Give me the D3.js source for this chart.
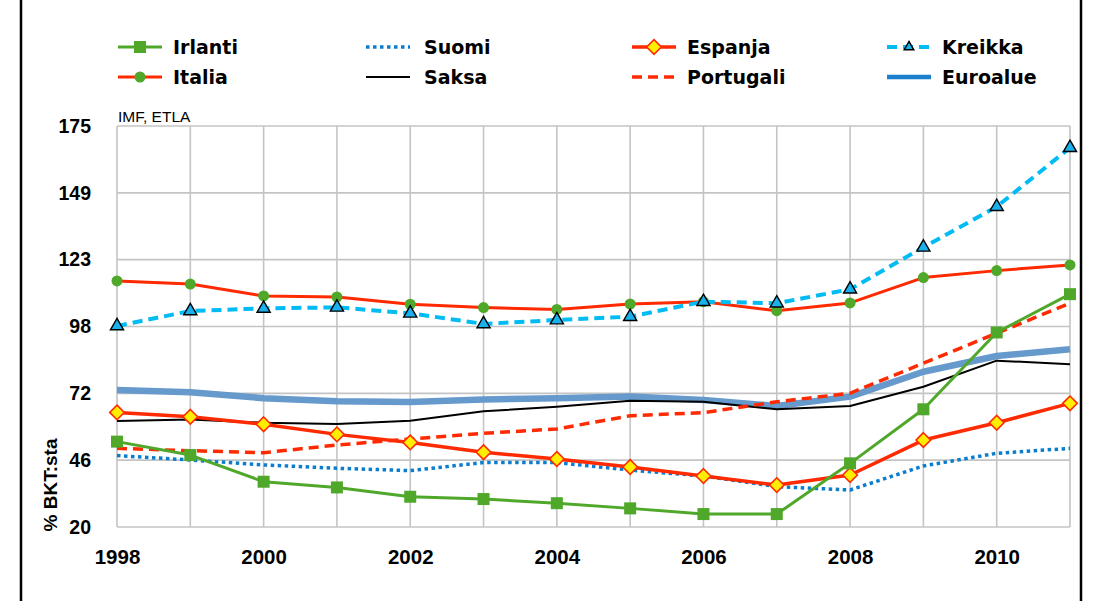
<!DOCTYPE html>
<html>
  <head>
    <meta charset="utf-8">
    <title>Julkinen velka</title>
    <script src="https://cdn.jsdelivr.net/npm/d3@7"></script>
    <style>
      body { margin: 0; background: #fff; }
      text { font-family: "Liberation Sans", Arial, sans-serif; }
      .legend text { font-family: "DejaVu Sans", sans-serif; font-weight: bold; font-size: 19px; }
    </style>
  </head>
  <body>
    <svg id="chart" width="1096" height="601"></svg>
    <script>
      // vuodet ja sarjat (% BKT:sta), luettu kuvasta
      var years = [1998, 1999, 2000, 2001, 2002, 2003, 2004, 2005, 2006, 2007, 2008, 2009, 2010, 2011];
      var xTickLabels = ["1998", "2000", "2002", "2004", "2006", "2008", "2010"];
      var yTickLabels = ["20", "46", "72", "98", "123", "149", "175"];

      var euroalue = [73.0, 72.1, 69.8, 68.6, 68.3, 69.3, 69.8, 70.4, 69.1, 66.8, 70.4, 80.0, 86.1, 88.7];
      var saksa    = [61.0, 61.6, 60.3, 59.8, 61.1, 64.7, 66.5, 68.8, 68.4, 65.5, 66.8, 74.2, 84.3, 82.9];
      var suomi    = [47.6, 45.9, 44.0, 42.7, 41.8, 44.9, 44.9, 42.0, 39.7, 35.6, 34.3, 43.6, 48.5, 50.4];
      var portugali= [50.4, 49.5, 48.7, 51.7, 54.0, 56.2, 57.9, 63.0, 64.2, 68.4, 71.7, 83.3, 94.9, 106.5];
      var espanja  = [64.3, 62.6, 59.7, 55.8, 52.7, 48.9, 46.3, 43.2, 39.7, 36.2, 40.1, 53.6, 60.3, 67.8];
      var italia   = [115.1, 113.9, 109.3, 108.9, 106.1, 104.8, 104.1, 106.2, 107.1, 103.6, 106.6, 116.4, 119.1, 121.3];
      var kreikka  = [97.7, 103.5, 104.5, 104.9, 102.6, 98.5, 100.0, 101.3, 107.1, 106.5, 111.9, 128.1, 143.8, 166.6];
      var irlanti  = [53.0, 47.8, 37.5, 35.3, 31.7, 30.8, 29.2, 27.2, 25.0, 25.0, 44.6, 65.5, 95.2, 110.0];

      // piirtojarjestys (alin ensin) + tyylit
      var series = [
        {name: "Euroalue", values: euroalue, color: "#6699cc", legendColor: "#1a7fcc", width: 6.5, dash: null, marker: null},
        {name: "Saksa", values: saksa, color: "#000000", width: 2, dash: null, marker: null},
        {name: "Suomi", values: suomi, color: "#0a7dd0", width: 3.5, dash: "3.5,3.5", marker: null},
        {name: "Portugali", values: portugali, color: "#ff2a00", width: 3.5, dash: "10,6", marker: null},
        {name: "Espanja", values: espanja, color: "#ff2a00", width: 3.5, dash: null, marker: "diamond"},
        {name: "Italia", values: italia, color: "#ff2a00", width: 3, dash: null, marker: "circle"},
        {name: "Kreikka", values: kreikka, color: "#00bbf4", width: 4, dash: "10,6", marker: "triangle"},
        {name: "Irlanti", values: irlanti, color: "#4fa82a", width: 3, dash: null, marker: "square"}
      ];
      var legendOrder = ["Irlanti", "Suomi", "Espanja", "Kreikka", "Italia", "Saksa", "Portugali", "Euroalue"];

      var svg = d3.select("#chart");
      var plotL = 117, plotR = 1070, plotT = 126, plotB = 527;

      var x = d3.scaleLinear().domain([1998, 2011]).range([plotL, plotR]);
      var y = d3.scaleLinear().domain([20, 175]).range([plotB, plotT]);
      var yTickVals = d3.range(7).map(function(i) { return 20 + i * 155 / 6; });

      // kehys
      svg.append("line").attr("x1", 21).attr("x2", 21).attr("y1", 0).attr("y2", 601)
        .attr("stroke", "#000").attr("stroke-width", 2.5);
      svg.append("line").attr("x1", 1081).attr("x2", 1081).attr("y1", 0).attr("y2", 601)
        .attr("stroke", "#000").attr("stroke-width", 2.5);

      // ruudukko
      var grid = svg.append("g").attr("stroke", "#c4c4c4").attr("stroke-width", 1.6);
      grid.selectAll(".hg").data(yTickVals).enter().append("line")
        .attr("x1", plotL).attr("x2", plotR)
        .attr("y1", function(d) { return y(d); }).attr("y2", function(d) { return y(d); });
      grid.selectAll(".vg").data(years).enter().append("line")
        .attr("y1", plotT).attr("y2", plotB)
        .attr("x1", function(d) { return x(d); }).attr("x2", function(d) { return x(d); });

      // akselit
      var yAxis = d3.axisLeft(y).tickValues(yTickVals).tickSize(0).tickPadding(26)
        .tickFormat(function(d, i) { return yTickLabels[i]; });
      var gy = svg.append("g").attr("transform", "translate(" + plotL + ",0)").call(yAxis);
      gy.select(".domain").remove();
      gy.selectAll("text").attr("font-family", "Liberation Sans, Arial, sans-serif")
        .attr("font-weight", "bold").attr("font-size", 19.5).attr("fill", "#000");

      var xAxis = d3.axisBottom(x).tickValues(xTickLabels.map(Number)).tickSize(0).tickPadding(22)
        .tickFormat(function(d, i) { return xTickLabels[i]; });
      var gx = svg.append("g").attr("transform", "translate(0," + plotB + ")").call(xAxis);
      gx.select(".domain").remove();
      gx.selectAll("text").attr("font-family", "Liberation Sans, Arial, sans-serif")
        .attr("font-weight", "bold").attr("font-size", 20.5).attr("fill", "#000");

      svg.append("text").attr("x", 118).attr("y", 122)
        .attr("font-size", 15.5).text("IMF, ETLA");

      svg.append("text").attr("transform", "translate(57,485) rotate(-90)")
        .attr("text-anchor", "middle").attr("font-weight", "bold").attr("font-size", 19)
        .text("% BKT:sta");

      // merkit
      function drawMarker(g, type, size) {
        if (type === "circle") {
          g.append("circle").attr("r", size * 0.5).attr("fill", "#4fa82a");
        } else if (type === "square") {
          g.append("rect").attr("x", -size / 2).attr("y", -size / 2)
            .attr("width", size).attr("height", size).attr("fill", "#4fa82a");
        } else if (type === "diamond") {
          g.append("path").attr("d", d3.symbol().type(d3.symbolDiamond2).size(size * size * 0.95)())
            .attr("fill", "#ffee00").attr("stroke", "#ff2a00").attr("stroke-width", 1.6);
        } else if (type === "triangle") {
          g.append("path").attr("d", d3.symbol().type(d3.symbolTriangle2).size(size * size * 0.55)())
            .attr("fill", "#1ab0ec").attr("stroke", "#000").attr("stroke-width", 1.4);
        }
      }
      var markerSize = {circle: 11, square: 12, diamond: 12, triangle: 15};

      var line = d3.line()
        .x(function(d, i) { return x(years[i]); })
        .y(function(d) { return y(d); });

      series.forEach(function(s) {
        var g = svg.append("g");
        g.append("path").attr("d", line(s.values))
          .attr("fill", "none").attr("stroke", s.color).attr("stroke-width", s.width)
          .attr("stroke-dasharray", s.dash).attr("stroke-linejoin", "round");
        if (s.marker) {
          s.values.forEach(function(v, i) {
            var m = g.append("g").attr("transform", "translate(" + x(years[i]) + "," + y(v) + ")");
            drawMarker(m, s.marker, markerSize[s.marker]);
          });
        }
      });

      // selite
      var legend = svg.append("g").attr("class", "legend");
      var colX = [118, 366, 632, 887];
      var rowY = [47, 77];
      legendOrder.forEach(function(name, i) {
        var s = series.find(function(d) { return d.name === name; });
        var cx = colX[i % 4], cy = rowY[Math.floor(i / 4)];
        var g = legend.append("g").attr("transform", "translate(" + cx + "," + cy + ")");
        g.append("line").attr("x1", 0).attr("x2", 44).attr("y1", 0).attr("y2", 0)
          .attr("stroke", s.legendColor || s.color).attr("stroke-width", Math.min(s.width, 4.5))
          .attr("stroke-dasharray", s.dash);
        if (s.marker) {
          var m = g.append("g").attr("transform", "translate(22,0)");
          drawMarker(m, s.marker, s.marker === "triangle" ? 11 : markerSize[s.marker]);
        }
        g.append("text").attr("x", name === "Saksa" || name === "Suomi" ? 58 : 55).attr("y", 7).text(name);
      });
    </script>
  </body>
</html>
